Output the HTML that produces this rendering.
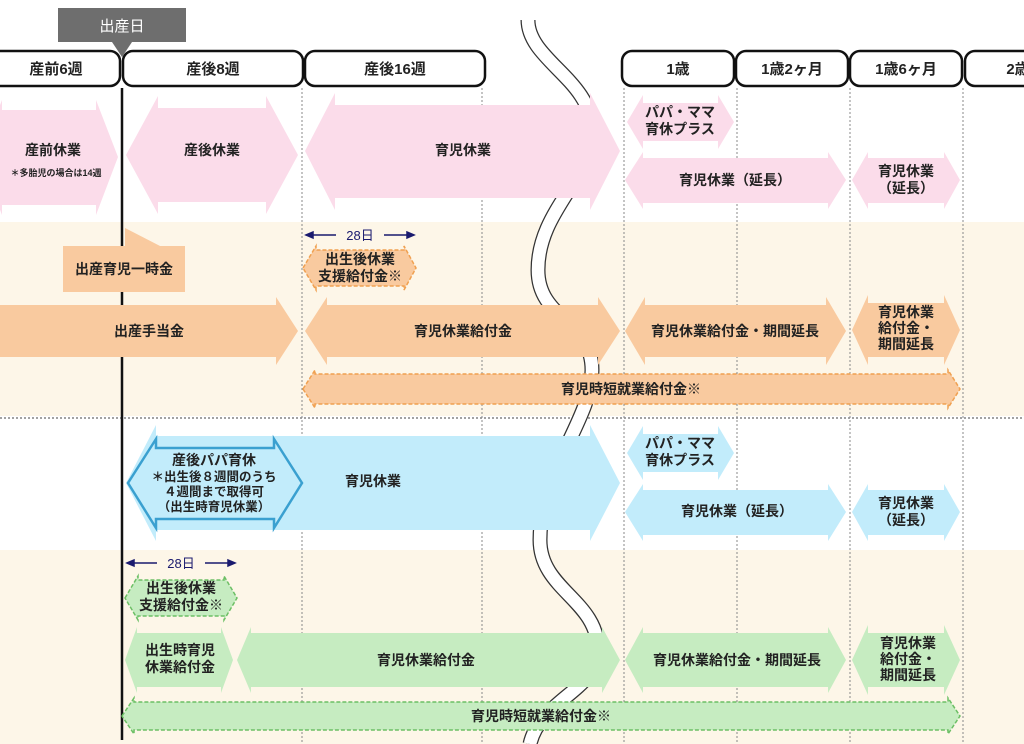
<!DOCTYPE html>
<html><head><meta charset="utf-8"><style>
html,body{margin:0;padding:0;background:#fff;}
svg{display:block;}
text{font-family:"Liberation Sans","Noto Sans CJK JP",sans-serif;fill:#222;font-weight:bold;text-anchor:middle;}
</style></head><body>
<svg width="1024" height="744" viewBox="0 0 1024 744" xmlns="http://www.w3.org/2000/svg">
<rect x="0" y="0" width="1024" height="744" fill="#fff"/>
<rect x="0" y="222" width="1024" height="194" fill="#fdf6e8"/>
<rect x="0" y="550" width="1024" height="194" fill="#fdf6e8"/>
<line x1="0" y1="418" x2="1024" y2="418" stroke="#444" stroke-width="1" stroke-dasharray="2,2"/>
<g stroke="#888" stroke-width="1" stroke-dasharray="2,2">
<line x1="302" y1="88" x2="302" y2="744"/><line x1="482" y1="88" x2="482" y2="744"/>
<line x1="624" y1="88" x2="624" y2="744"/><line x1="737" y1="88" x2="737" y2="744"/>
<line x1="850" y1="88" x2="850" y2="744"/><line x1="963" y1="88" x2="963" y2="744"/>
</g>
<path d="M528,20 C528,60 592,80 592,130 C592,180 538,210 538,270 C538,320 592,320 592,370 C592,420 540,470 540,540 C540,590 598,600 598,650 C598,690 540,700 530,744" fill="none" stroke="#333" stroke-width="15"/>
<path d="M528,20 C528,60 592,80 592,130 C592,180 538,210 538,270 C538,320 592,320 592,370 C592,420 540,470 540,540 C540,590 598,600 598,650 C598,690 540,700 530,744" fill="none" stroke="#fff" stroke-width="12.5"/>
<line x1="122" y1="88" x2="122" y2="740" stroke="#111" stroke-width="2.5"/>

<g fill="#fff" stroke="#111" stroke-width="2.5">
<rect x="-12" y="51" width="132" height="35" rx="10"/>
<rect x="123" y="51" width="180" height="35" rx="10"/>
<rect x="305" y="51" width="180" height="35" rx="10"/>
<rect x="622" y="51" width="112" height="35" rx="10"/>
<rect x="736" y="51" width="112" height="35" rx="10"/>
<rect x="850" y="51" width="112" height="35" rx="10"/>
<rect x="965" y="51" width="80" height="35" rx="10"/>
</g>
<g font-size="15">
<text x="56" y="74">産前6週</text><text x="213" y="74">産後8週</text><text x="395" y="74">産後16週</text>
<text x="678" y="74">1歳</text><text x="792" y="74">1歳2ヶ月</text><text x="906" y="74">1歳6ヶ月</text><text x="1018" y="74">2歳</text>
</g>
<rect x="58" y="8" width="128" height="34" fill="#6e6e6e"/>
<polygon points="112,42 132,42 122,57" fill="#6e6e6e"/>
<text x="122" y="31" font-size="15" style="fill:#fff;font-weight:normal">出産日</text>

<g fill="#fbdcea">
<polygon points="-20,157 2,100 2,110 96,110 96,100 118,157 96,215 96,205 2,205 2,215"/>
<polygon points="126,155 158,96 158,108 266,108 266,96 298,155 266,214 266,202 158,202 158,214"/>
<polygon points="305,151 335,93 335,105 590,105 590,93 620,151 590,210 590,198 335,198 335,210"/>
<polygon points="627,122 643,95 643,103 718,103 718,95 734,122 718,149 718,141 643,141 643,149"/>
<polygon points="625,180 643,152 643,158 828,158 828,152 846,180 828,209 828,203 643,203 643,209"/>
<polygon points="852,180 868,152 868,158 944,158 944,152 960,180 944,209 944,203 868,203 868,209"/>
</g>
<g font-size="14">
<text x="53" y="155">産前休業</text>
<text x="56" y="176" font-size="9">＊多胎児の場合は14週</text>
<text x="212" y="155">産後休業</text>
<text x="463" y="155">育児休業</text>
<text x="680" y="117">パパ・ママ</text><text x="680" y="134">育休プラス</text>
<text x="735" y="185">育児休業（延長）</text>
<text x="906" y="176">育児休業</text><text x="906" y="193">（延長）</text>
</g>

<g fill="#f9ca9f">
<rect x="63" y="246" width="122" height="46"/>
<polygon points="125,247 125,228 162,247"/>
<polygon points="-30,331 -8,297 -8,305 276,305 276,297 298,331 276,365 276,357 -8,357 -8,365"/>
<polygon points="305,331 327,297 327,305 598,305 598,297 620,331 598,365 598,357 327,357 327,365"/>
<polygon points="625,331 645,297 645,305 826,305 826,297 846,331 826,365 826,357 645,357 645,365"/>
<polygon points="852,330 868,295 868,303 944,303 944,295 960,330 944,365 944,357 868,357 868,365"/>
</g>
<g fill="#f9ca9f" stroke="#f0a050" stroke-width="1.5" stroke-dasharray="4,2">
<polygon points="303,268 316,246 316,250 404,250 404,246 416,268 404,290 404,286 316,286 316,290"/>
<polygon points="303,389 315,370 315,374 948,374 948,370 960,389 948,408 948,404 315,404 315,408"/>
</g>
<g stroke="#1a1a6e" stroke-width="1.5" fill="#1a1a6e">
<line x1="310" y1="235" x2="336" y2="235"/><polygon points="306,235 313,232 313,238"/>
<line x1="384" y1="235" x2="410" y2="235"/><polygon points="414,235 407,232 407,238"/>
<line x1="131" y1="563" x2="157" y2="563"/><polygon points="127,563 134,560 134,566"/>
<line x1="205" y1="563" x2="231" y2="563"/><polygon points="235,563 228,560 228,566"/>
</g>
<text x="360" y="240" font-size="13" style="fill:#1a1a6e;font-weight:normal">28日</text>
<text x="181" y="568" font-size="13" style="fill:#1a1a6e;font-weight:normal">28日</text>
<g font-size="14">
<text x="124" y="274">出産育児一時金</text>
<text x="360" y="264">出生後休業</text><text x="360" y="281">支援給付金※</text>
<text x="149" y="336">出産手当金</text>
<text x="463" y="336">育児休業給付金</text>
<text x="735" y="336">育児休業給付金・期間延長</text>
<text x="906" y="317">育児休業</text><text x="906" y="333">給付金・</text><text x="906" y="349">期間延長</text>
<text x="631" y="394">育児時短就業給付金※</text>
</g>

<g fill="#c2ecfb">
<polygon points="126,483 156,425 156,436 590,436 590,425 620,483 590,541 590,530 156,530 156,541"/>
<polygon points="627,453 643,426 643,434 718,434 718,426 734,453 718,480 718,472 643,472 643,480"/>
<polygon points="625,512 643,484 643,490 828,490 828,484 846,512 828,541 828,535 643,535 643,541"/>
<polygon points="852,512 868,484 868,490 944,490 944,484 960,512 944,541 944,535 868,535 868,541"/>
</g>
<polygon points="128,483 156,439 156,448 274,448 274,439 302,483 274,528 274,519 156,519 156,528" fill="#c2ecfb" stroke="#3aa0d0" stroke-width="2.5"/>
<g font-size="14">
<text x="214" y="465">産後パパ育休</text>
<text x="214" y="481" font-size="12.5">＊出生後８週間のうち</text>
<text x="214" y="496" font-size="12.5">４週間まで取得可</text>
<text x="214" y="511" font-size="12.5">（出生時育児休業）</text>
<text x="373" y="486">育児休業</text>
<text x="680" y="448">パパ・ママ</text><text x="680" y="465">育休プラス</text>
<text x="737" y="516">育児休業（延長）</text>
<text x="906" y="508">育児休業</text><text x="906" y="525">（延長）</text>
</g>

<g fill="#c6ecc1">
<polygon points="125,660 137,627 137,633 221,633 221,627 233,660 221,693 221,687 137,687 137,693"/>
<polygon points="237,660 251,627 251,633 602,633 602,627 620,660 602,693 602,687 251,687 251,693"/>
<polygon points="625,660 643,627 643,633 828,633 828,627 846,660 828,693 828,687 643,687 643,693"/>
<polygon points="852,660 868,625 868,633 944,633 944,625 960,660 944,695 944,687 868,687 868,695"/>
</g>
<g fill="#c6ecc1" stroke="#6cbf65" stroke-width="1.5" stroke-dasharray="4,2">
<polygon points="125,598 138,576 138,580 224,580 224,576 237,598 224,620 224,616 138,616 138,620"/>
<polygon points="122,716 134,698 134,702 948,702 948,698 960,716 948,734 948,730 134,730 134,734"/>
</g>
<g font-size="14">
<text x="181" y="593">出生後休業</text><text x="181" y="610">支援給付金※</text>
<text x="180" y="655">出生時育児</text><text x="180" y="672">休業給付金</text>
<text x="426" y="665">育児休業給付金</text>
<text x="737" y="665">育児休業給付金・期間延長</text>
<text x="908" y="648">育児休業</text><text x="908" y="664">給付金・</text><text x="908" y="680">期間延長</text>
<text x="541" y="721">育児時短就業給付金※</text>
</g>
</svg>
</body></html>
